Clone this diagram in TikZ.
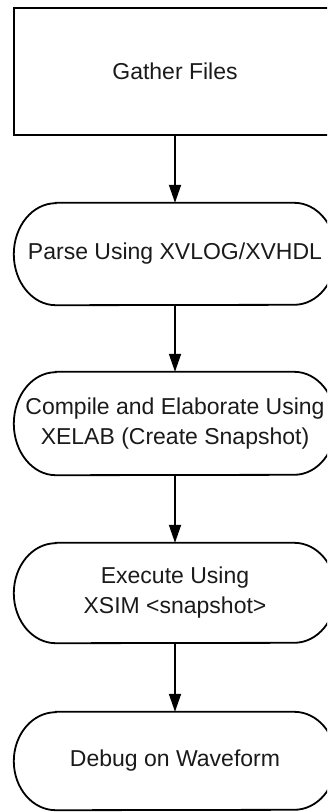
\documentclass[tikz,border=0pt]{standalone}
\usepackage{fontspec}
\setmainfont{Liberation Sans}
\usetikzlibrary{arrows.meta}
\definecolor{txt}{HTML}{1A1A1A}
\begin{document}
\begin{tikzpicture}[x=1pt,y=-1pt,
  box/.style={rectangle, minimum width=322pt, inner sep=0pt, align=center,
    text=txt, font=\fontsize{23}{30}\selectfont},
  outline/.style={line width=1.8pt, black},
  conn/.style={line width=1.8pt, -{Triangle[length=18pt,width=12pt]}}]
\useasboundingbox (0,0) rectangle (327,812);
\clip (0,0) rectangle (327,812);
\node[box, minimum height=127pt, draw, line width=1.8pt] (gather) at (175,71.5) {Gather Files};
\node[box, minimum height=102pt] (parse) at (175,254) {Parse Using XVLOG/XVHDL};
\node[box, minimum height=103pt] (compile) at (175,423.5) {Compile and Elaborate Using\\XELAB (Create Snapshot)};
\node[box, minimum height=100pt] (execute) at (175,593) {Execute Using\\XSIM <snapshot>};
\node[box, minimum height=98pt] (debug) at (175,761) {Debug on Waveform};
\foreach \n/\r in {parse/51, compile/51.5, execute/50, debug/49}{
  \draw[outline] ([xshift=42pt]\n.north west) -- ([xshift=-42pt]\n.north east)
    arc[start angle=90, end angle=-90, x radius=42pt, y radius=\r pt]
    -- ([xshift=42pt]\n.south west)
    arc[start angle=270, end angle=90, x radius=42pt, y radius=\r pt] -- cycle;
}
\draw[conn] (gather) -- (parse);
\draw[conn] (parse) -- (compile);
\draw[conn] (compile) -- (execute);
\draw[conn] (execute) -- (debug);
\end{tikzpicture}
\end{document}
